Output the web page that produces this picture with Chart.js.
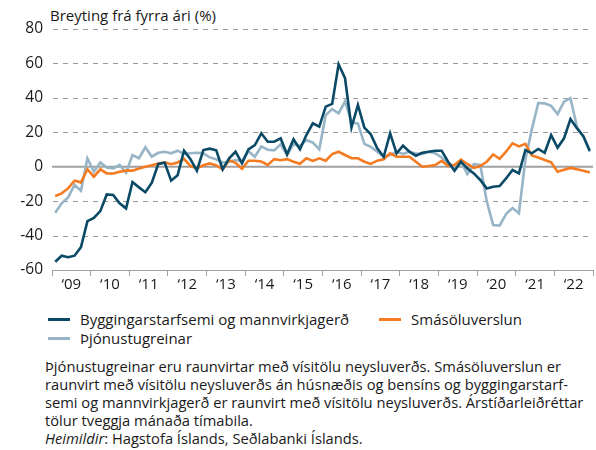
<!DOCTYPE html>
<html>
<head>
<meta charset="utf-8">
<script src="https://cdn.jsdelivr.net/npm/chart.js@4/dist/chart.umd.min.js"></script>
<style>
  html, body { margin: 0; padding: 0; background: #fff; }
  body { width: 596px; height: 450px; position: relative; overflow: hidden; font-family: "Open Sans", "Noto Sans", sans-serif; color: #1a1a1a; }
  #title { position: absolute; left: 50px; top: 5px; font-size: 15px; white-space: nowrap; }
  #wrap { position: absolute; left: 0; top: 0; width: 596px; height: 296px; }
  #legend { position: absolute; left: 48px; top: 310px; font-size: 15px; line-height: 19px; white-space: nowrap; }
  .row { display: flex; align-items: center; height: 19px; }
  .item { display: flex; align-items: center; }
  .swatch { display: inline-block; width: 22px; height: 3px; margin-right: 10px; }
  #notes { position: absolute; left: 45px; top: 357px; width: 551px; font-size: 14.7px; line-height: 18px; white-space: nowrap; }
</style>
</head>
<body>
<div id="title">Breyting frá fyrra ári (%)</div>
<div id="wrap"><canvas id="c" width="596" height="296"></canvas></div>
<div id="legend"></div>
<div id="notes">Þjónustugreinar eru raunvirtar með vísitölu neysluverðs. Smásöluverslun er<br>raunvirt með vísitölu neysluverðs án húsnæðis og bensíns og byggingarstarf-<br>semi og mannvirkjagerð er raunvirt með vísitölu neysluverðs. Árstíðarleiðréttar<br>tölur tveggja mánaða tímabila.<br><i>Heimildir</i>: Hagstofa Íslands, Seðlabanki Íslands.</div>
<script>
// Two-month periods, Jan-Feb 2009 .. Nov-Dec 2022
const startYear = 2009;
const periodsPerYear = 6;
const yearLabels = ['\u201809','\u201810','\u201811','\u201812','\u201813','\u201814','\u201815','\u201816','\u201817','\u201818','\u201819','\u201820','\u201821','\u201822'];
const seriesNames = ['Byggingarstarfsemi og mannvirkjagerð', 'Smásöluverslun', 'Þjónustugreinar'];

const byggingar = [-55.2, -51.7, -52.6, -51.7, -46.7, -31.6, -29.8, -25.8, -16.1, -16.4, -21.3, -24.2,
  -8.9, -12, -14.8, -9.3, 1.6, 2.3, -8.1, -5, 9.3, 4.3, -2.3, 9.7,
  10.5, 9.5, -1.5, 4.9, 8.7, 2, 10.1, 12.6, 19.4, 14.5, 14.5, 16.5,
  7.2, 15.9, 10.1, 18.4, 25.2, 23.3, 34.9, 36.5, 59.5, 51.4, 22.7, 35.9,
  22.7, 18.8, 10.7, 5.8, 19.4, 7.8, 12.2, 8.7, 6.4, 8.1, 8.7, 9.3,
  9.3, 2.9, -2.3, 2.9, -1, -3.9, -7.7, -12.6, -11.6, -11.2, -6.8, -1.9,
  -3.9, 9.7, 7.8, 10.3, 8.1, 18.4, 11, 16.5, 27.7, 22.3, 17.8, 9.3];

const smasala = [-17, -15.5, -12.6, -8.1, -9.1, -1.5, -5.8, -1.5, -3.9, -3.9, -2.9, -2.3,
  -2.3, -1, 0, 0.8, 1.9, 2.5, 1.5, 2.5, 4.5, 0.4, -1, 0.8,
  1.9, 0.8, -1.5, 3.7, 2.3, -1.2, 3.5, 3.5, 3, 1, 4.4, 3.8,
  4.4, 2.9, 1.7, 4.9, 3.4, 4.9, 3.5, 7.3, 8.7, 6.8, 4.9, 4.9,
  2.9, 1.6, 3.5, 4.3, 7.8, 5.8, 5.8, 5.8, 2.9, 0, 0.4, 1,
  3.4, 0.5, 1, 4.1, 1.6, -0.7, 0.4, 2.9, 7.1, 4.6, 8.7, 13.6,
  11.8, 13.3, 6.5, 5.3, 3.9, 2.6, -2.9, -1.7, -0.7, -1.5, -2.3, -3.4];

const thjonusta = [-26.7, -21.3, -17.8, -10.6, -14, 4.9, -2.9, 2.5, -0.4, -1, 1, -3.5,
  6.8, 4.9, 11.3, 5.8, 8.1, 8.7, 7.8, 9.3, 7.4, 7.8, 8.1, 7.8,
  5.4, 4.3, 2.3, 2.9, 3.9, 3.2, 9, 5.8, 11.8, 9.9, 9.5, 13,
  6.8, 13.1, 12.1, 15.5, 14, 10.1, 30, 33.5, 31, 38, 26, 25,
  13.3, 11.6, 8.7, 5.8, 6.8, 8.7, 7.4, 8.7, 7.6, 7.4, 8.7, 7.8,
  5.4, 1.9, 0.4, 2.9, -4.3, 1.5, 1, -20, -33.9, -34.2, -27.5, -24,
  -27, 4, 21.7, 37, 36.8, 35.3, 30.6, 37.8, 39.8, 23.3, 17.4, 8.7];

const colors = ['#0b4a66', '#f47b20', '#97b5c6'];

function toPoints(arr) {
  return arr.map((v, i) => ({ x: startYear + (2 * i + 1) / (2 * periodsPerYear), y: v }));
}

const seriesData = [byggingar, smasala, thjonusta];

// HTML legend
const legend = document.getElementById('legend');
const rows = [[0, 1], [2]];
rows.forEach(r => {
  const row = document.createElement('div');
  row.className = 'row';
  r.forEach((idx, k) => {
    const it = document.createElement('div');
    it.className = 'item';
    if (k > 0) it.style.marginLeft = '30px';
    const sw = document.createElement('span');
    sw.className = 'swatch';
    sw.style.background = colors[idx];
    const tx = document.createElement('span');
    tx.textContent = seriesNames[idx];
    it.appendChild(sw); it.appendChild(tx);
    row.appendChild(it);
  });
  legend.appendChild(row);
});

const gridPlugin = {
  id: 'gridLines',
  beforeDatasetsDraw(chart) {
    const { ctx, chartArea, scales } = chart;
    ctx.save();
    ctx.strokeStyle = '#9a9a9a';
    ctx.lineWidth = 1.2;
    scales.y.ticks.forEach(t => {
      if (t.value === 0 || t.value === -60) return;
      const y = Math.round(scales.y.getPixelForValue(t.value)) + 0.5;
      ctx.beginPath();
      for (let x = chartArea.left + 1; x < chartArea.right; x += 10) {
        ctx.moveTo(x, y);
        ctx.lineTo(Math.min(x + 5, chartArea.right), y);
      }
      ctx.stroke();
    });
    const y0 = scales.y.getPixelForValue(0);
    ctx.strokeStyle = '#a0a0a0';
    ctx.lineWidth = 2;
    ctx.beginPath();
    ctx.moveTo(chartArea.left, y0);
    ctx.lineTo(chartArea.right, y0);
    ctx.stroke();
    ctx.restore();
  }
};

const fontFamily = '"Open Sans", "Noto Sans", sans-serif';

new Chart(document.getElementById('c'), {
  type: 'line',
  data: {
    datasets: seriesData.map((d, i) => ({
      label: seriesNames[i],
      data: toPoints(d),
      borderColor: colors[i],
      backgroundColor: colors[i],
      borderWidth: 2.6,
      pointRadius: 0,
      tension: 0,
      fill: false
    }))
  },
  options: {
    responsive: false,
    animation: false,
    events: [],
    layout: { padding: { top: 29, right: 3, left: 0, bottom: 0 } },
    plugins: { legend: { display: false }, tooltip: { enabled: false } },
    scales: {
      x: {
        type: 'linear',
        min: startYear,
        max: startYear + yearLabels.length,
        afterBuildTicks(scale) {
          const t = [];
          for (let k = 0; k <= yearLabels.length * 2; k++) t.push({ value: startYear + k / 2 });
          scale.ticks = t;
        },
        afterFit(scale) { scale.height = 26; },
        ticks: {
          autoSkip: false,
          maxRotation: 0,
          padding: 0,
          color: '#1a1a1a',
          font: { family: fontFamily, size: 15 },
          callback(value) {
            const k = value - startYear;
            if (Math.abs(k - Math.floor(k) - 0.5) < 1e-6) return yearLabels[Math.floor(k)];
            return '';
          }
        },
        grid: {
          drawOnChartArea: false,
          drawTicks: true,
          tickLength: 6,
          lineWidth: 1,
          color(ctx) {
            if (!ctx.tick) return 'transparent';
            const k = ctx.tick.value - startYear;
            return Math.abs(k - Math.round(k)) < 1e-6 ? '#a0a0a0' : 'transparent';
          }
        },
        border: { display: true, color: '#a0a0a0', width: 1 }
      },
      y: {
        min: -60,
        max: 80,
        afterFit(scale) { scale.width = 52; },
        ticks: {
          stepSize: 20,
          padding: 9,
          color: '#1a1a1a',
          font: { family: fontFamily, size: 15.5 }
        },
        grid: { display: false, drawTicks: false },
        border: { display: false }
      }
    }
  },
  plugins: [gridPlugin]
});
</script>
</body>
</html>
